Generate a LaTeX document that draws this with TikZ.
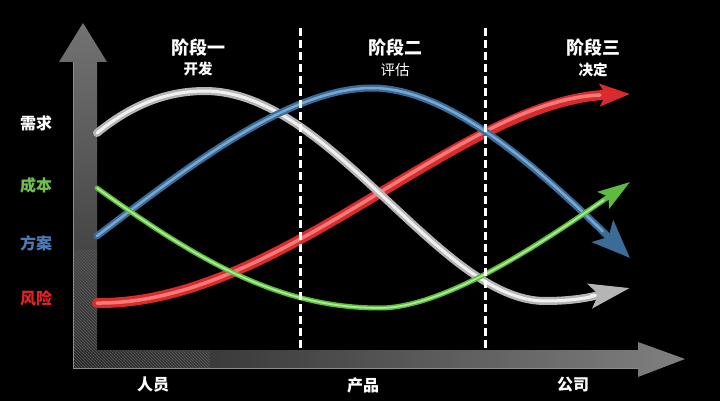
\documentclass[tikz,border=0pt]{standalone}
\usepackage{fontspec}
\newfontfamily\cjk{Noto Sans CJK SC}
\usetikzlibrary{arrows.meta}
\definecolor{riskRed}{HTML}{D92B2B}
\definecolor{riskRedLight}{HTML}{F47A7A}
\definecolor{needGray}{HTML}{B5B5B5}
\definecolor{needLight}{HTML}{F0F0F0}
\definecolor{planBlue}{HTML}{3B6C98}
\definecolor{planLight}{HTML}{76A8D2}
\definecolor{costGreen}{HTML}{5DBB3F}
\definecolor{costLight}{HTML}{A8EE8E}
\definecolor{lblGreen}{HTML}{6FC04C}
\definecolor{lblBlue}{HTML}{4C7DBA}
\definecolor{lblRed}{HTML}{E42222}

\begin{document}
\begin{tikzpicture}[
  x=1pt, y=-1pt,
  stageStyle/.style={font=\cjk\bfseries\fontsize{18}{18}\selectfont, text=white},
  subStyle/.style={font=\cjk\fontsize{14.5}{15}\selectfont, text=white},
  sideStyle/.style={font=\cjk\bfseries\fontsize{16}{16}\selectfont},
  dashLine/.style={white, line width=3pt, dash pattern=on 8pt off 4pt},
  tube/.style={line cap=round, line join=round}]

\fill [black] (0,0) rectangle (720,401);
\useasboundingbox (0,0) rectangle (720,401);

% axes
\shade [top color=black!55, bottom color=black!82] (59,62) -- (83,23) -- (107,62) -- (97,62) -- (97,368) -- (73,368) -- (73,62) -- cycle;
\shade [left color=black!85, right color=black!50] (73,350) -- (638,350) -- (638,342) -- (685,359) -- (638,377) -- (638,368) -- (73,368) -- cycle;
\begin{scope}
  \clip (73,250) -- (97,250) -- (97,350) -- (210,350) -- (210,368) -- (73,368) -- cycle;
  \foreach \c in {-300,-297,...,-120}
    \draw [black!64, line width=0.6pt] (\c+240,240) -- (\c+380,380);
\end{scope}
\draw [black!45, line width=0.8pt] (73,62) -- (73,368) -- (638,368);

% curves
\draw [tube, riskRed, line width=10pt, -{Stealth[length=30pt, width=22pt, inset=6pt]}] (97,303) .. controls (280,305) and (460,100) .. (630,94);
\draw [tube, riskRedLight, line width=3.5pt, shorten >=30pt] (97,303) .. controls (280,305) and (460,100) .. (630,94);

\draw [tube, needGray, line width=8pt, -{Stealth[length=40pt, width=24pt, inset=8pt]}] (97,133) .. controls (130,106) and (165,91) .. (205,91) .. controls (330,91) and (440,301) .. (545,301) .. controls (585,301) and (605,293) .. (630,288);
\draw [tube, needLight, line width=3pt, shorten >=40pt] (97,133) .. controls (130,106) and (165,91) .. (205,91) .. controls (330,91) and (440,301) .. (545,301) .. controls (585,301) and (605,293) .. (630,288);

\draw [tube, planBlue, line width=7pt, -{Stealth[length=38pt, width=30pt, inset=8pt]}] (97,236) .. controls (190,165) and (290,88) .. (372,88) .. controls (450,88) and (540,170) .. (630,258);
\draw [tube, planLight, line width=2.5pt, shorten >=38pt] (97,236) .. controls (190,165) and (290,88) .. (372,88) .. controls (450,88) and (540,170) .. (630,258);

\draw [tube, costGreen, line width=5pt, -{Stealth[length=32pt, width=20pt, inset=6pt]}] (97,188) .. controls (200,262) and (280,308) .. (380,308) .. controls (450,308) and (560,230) .. (630,182);
\draw [tube, costLight, line width=1.8pt, shorten >=32pt] (97,188) .. controls (200,262) and (280,308) .. (380,308) .. controls (450,308) and (560,230) .. (630,182);

% stage borders
\draw [dashLine] (300,28) -- (300,350);
\draw [dashLine] (485,28) -- (485,350);

% labels
\node [stageStyle] (stageOne) at (198,48) {阶段一};
\node [subStyle, font=\cjk\bfseries\fontsize{14.5}{15}\selectfont] (stageOneSub) at (198,69) {开发};
\node [stageStyle] (stageTwo) at (395,48) {阶段二};
\node [subStyle] (stageTwoSub) at (395,70) {评估};
\node [stageStyle] (stageThree) at (593,48) {阶段三};
\node [subStyle, font=\cjk\bfseries\fontsize{14.5}{15}\selectfont] (stageThreeSub) at (593,70) {决定};

\node [sideStyle, text=white] (needLbl) at (36,123) {需求};
\node [sideStyle, text=lblGreen] (costLbl) at (36,185) {成本};
\node [sideStyle, text=lblBlue] (planLbl) at (36,243) {方案};
\node [sideStyle, text=lblRed] (riskLbl) at (36,298) {风险};

\node [sideStyle, text=white] (peopleLbl) at (153,385) {人员};
\node [sideStyle, text=white] (productLbl) at (363,385) {产品};
\node [sideStyle, text=white] (companyLbl) at (573,385) {公司};
\end{tikzpicture}
\end{document}
